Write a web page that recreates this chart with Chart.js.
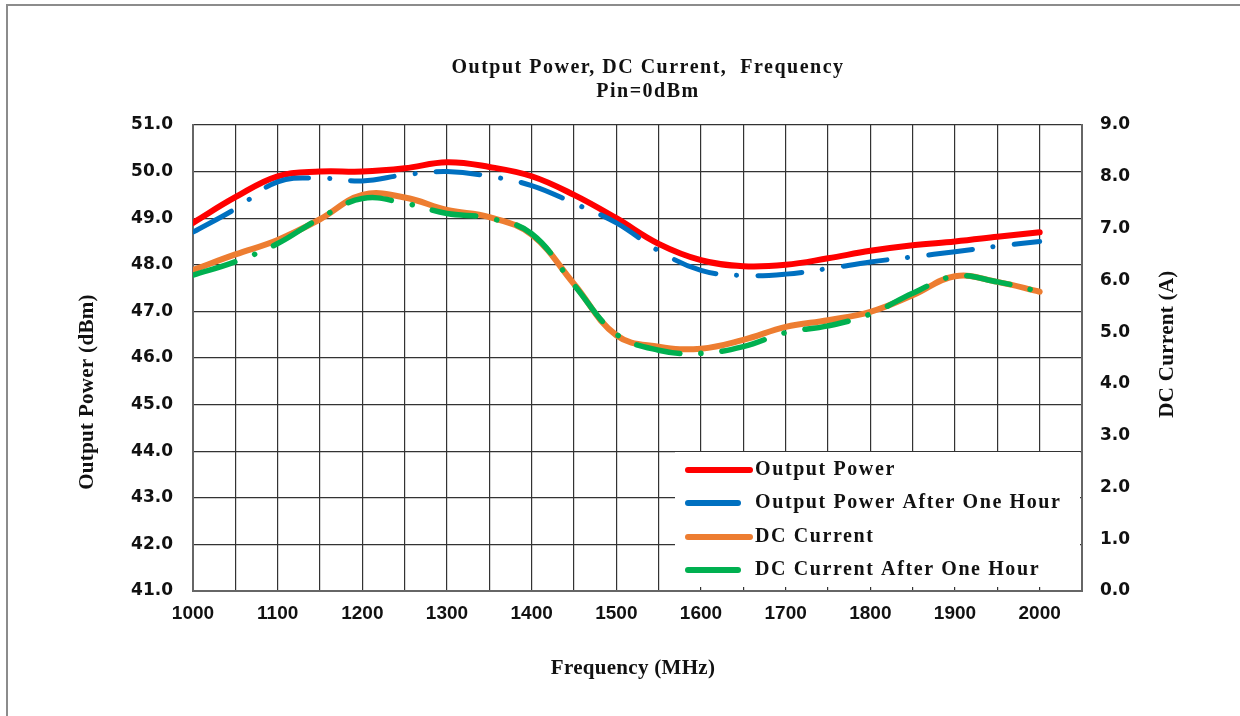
<!DOCTYPE html>
<html>
<head>
<meta charset="utf-8">
<title>Output Power, DC Current, Frequency</title>
<script src="https://cdn.jsdelivr.net/npm/chart.js@4.4.1/dist/chart.umd.min.js"></script>
<style>
    html, body { margin: 0; padding: 0; background: #fff; }
    #wrap { position: relative; width: 1240px; height: 716px; }
</style>
</head>
<body>
<div id="wrap"><canvas id="my-Power-Chart" width="1240" height="716"></canvas></div>
<script>
// data, step 50 MHz
const frequency = [1000, 1050, 1100, 1150, 1200, 1250, 1300, 1350, 1400, 1450, 1500,
                   1550, 1600, 1650, 1700, 1750, 1800, 1850, 1900, 1950, 2000];
const outputPower = [48.9, 49.45, 49.9, 50.0, 50.0, 50.07, 50.2, 50.1, 49.9, 49.5, 49.0,
                     48.45, 48.1, 47.97, 48.0, 48.14, 48.3, 48.42, 48.5, 48.6, 48.7];
const outputPowerAfterHour = [48.7, 49.2, 49.78, 49.86, 49.8, 49.93, 50.0, 49.9, 49.7, 49.32, 48.9,
                              48.3, 47.88, 47.77, 47.8, 47.92, 48.06, 48.17, 48.28, 48.4, 48.5];
const dcCurrent = [6.2, 6.5, 6.78, 7.18, 7.65, 7.6, 7.36, 7.22, 6.88, 5.93, 4.94,
                   4.72, 4.68, 4.85, 5.1, 5.23, 5.39, 5.71, 6.08, 5.97, 5.78];
const dcCurrentAfterHour = [6.1, 6.36, 6.71, 7.2, 7.58, 7.49, 7.29, 7.2, 6.9, 5.91, 4.96,
                            4.65, 4.59, 4.72, 4.99, 5.12, 5.35, 5.75, 6.08, 5.97, 5.78];

const seriesNames = ['Output Power', 'Output Power After One Hour', 'DC Current', 'DC Current After One Hour'];
const seriesColors = ['#ff0000', '#0070c0', '#ed7d31', '#00b050'];
const titleLines = ['Output Power, DC Current,  Frequency', 'Pin=0dBm'];
const xTitle = 'Frequency (MHz)';
const yTitle = 'Output Power (dBm)';
const y2Title = 'DC Current (A)';

const dashDot = [44, 21, 0.1, 21];

function toPoints(values) {
    return values.map((v, i) => ({ x: frequency[i], y: v }));
}

// judul, legenda, bingkai digambar sendiri
const extrasPlugin = {
    id: 'extras',
    beforeDraw(chart) {
        const ctx = chart.ctx;
        ctx.save();
        ctx.fillStyle = '#fff';
        ctx.fillRect(0, 0, chart.width, chart.height);
        ctx.strokeStyle = '#8c8c8c';
        ctx.lineWidth = 2;
        ctx.beginPath();
        ctx.moveTo(7, 716);
        ctx.lineTo(7, 5);
        ctx.lineTo(1240, 5);
        ctx.stroke();
        ctx.restore();
    },
    afterDraw(chart) {
        const ctx = chart.ctx;
        ctx.save();
        ctx.fillStyle = '#111';
        ctx.textAlign = 'center';
        ctx.textBaseline = 'middle';

        // judul
        ctx.font = 'bold 20px "Liberation Serif"';
        ctx.letterSpacing = '1.5px';
        ctx.fillText(titleLines[0], 648, 68);
        ctx.fillText(titleLines[1], 648, 92);

        // judul sumbu
        ctx.font = 'bold 21px "Liberation Serif"';
        ctx.letterSpacing = '0.3px';
        ctx.fillText(xTitle, 633, 669);
        ctx.save();
        ctx.translate(88, 392);
        ctx.rotate(-Math.PI / 2);
        ctx.fillText(yTitle, 0, 0);
        ctx.restore();
        ctx.save();
        ctx.translate(1168, 344);
        ctx.rotate(-Math.PI / 2);
        ctx.fillText(y2Title, 0, 0);
        ctx.restore();

        // legenda di dalam area grafik
        ctx.fillStyle = '#fff';
        ctx.fillRect(675, 452, 405, 135);
        const rows = [470, 503, 537, 570];
        const lineEnds = [750, 738, 750, 738];
        ctx.lineCap = 'round';
        ctx.textAlign = 'left';
        ctx.font = 'bold 20px "Liberation Serif"';
        ctx.letterSpacing = '1.6px';
        chart.data.datasets.forEach((ds, i) => {
            ctx.strokeStyle = ds.borderColor;
            ctx.lineWidth = 6;
            ctx.beginPath();
            ctx.moveTo(688, rows[i]);
            ctx.lineTo(lineEnds[i], rows[i]);
            ctx.stroke();
            ctx.fillStyle = '#111';
            ctx.fillText(ds.label, 755, rows[i]);
        });
        ctx.restore();
    }
};

function createPowerChart() {
    const ctx = document.getElementById('my-Power-Chart').getContext('2d');
    new Chart(ctx, {
        type: 'line',
        data: {
            // order: seri "after one hour" digambar di atas
            datasets: [
                { label: seriesNames[0], data: toPoints(outputPower), yAxisID: 'y', order: 4,
                  borderColor: seriesColors[0], borderWidth: 6 },
                { label: seriesNames[1], data: toPoints(outputPowerAfterHour), yAxisID: 'y', order: 3,
                  borderColor: seriesColors[1], borderWidth: 5, borderDash: dashDot },
                { label: seriesNames[2], data: toPoints(dcCurrent), yAxisID: 'y2', order: 2,
                  borderColor: seriesColors[2], borderWidth: 6 },
                { label: seriesNames[3], data: toPoints(dcCurrentAfterHour), yAxisID: 'y2', order: 1,
                  borderColor: seriesColors[3], borderWidth: 5.5, borderDash: dashDot }
            ]
        },
        options: {
            responsive: false,
            animation: false,
            layout: { padding: { top: 125, left: 0, right: 0, bottom: 0 } },
            elements: {
                point: { radius: 0 },
                line: { tension: 0.4, borderCapStyle: 'round', fill: false }
            },
            plugins: {
                legend: { display: false },
                title: { display: false },
                tooltip: { enabled: false }
            },
            scales: {
                x: {
                    type: 'linear',
                    min: 1000,
                    max: 2050,
                    afterFit: (s) => { s.height = 125; },
                    grid: { color: '#333', lineWidth: 1.2, drawTicks: false },
                    border: { color: '#666', width: 2 },
                    ticks: {
                        stepSize: 50,
                        padding: 11,
                        color: '#111',
                        autoSkip: false,
                        maxRotation: 0,
                        minRotation: 0,
                        font: { family: '"Liberation Sans"', weight: 'bold', size: 19 },
                        callback: (v) => (v % 100 === 0 && v <= 2000) ? String(v) : ''
                    }
                },
                y: {
                    position: 'left',
                    min: 41,
                    max: 51,
                    afterFit: (s) => { s.width = 193; },
                    grid: { color: '#333', lineWidth: 1.2, drawTicks: false },
                    border: { color: '#666', width: 2 },
                    ticks: {
                        stepSize: 1,
                        padding: 20,
                        color: '#111',
                        font: { family: '"DejaVu Sans"', weight: 'bold', size: 17 },
                        callback: (v) => v.toFixed(1)
                    }
                },
                y2: {
                    position: 'right',
                    min: 0,
                    max: 9,
                    afterFit: (s) => { s.width = 158; },
                    grid: { display: false, drawTicks: false },
                    border: { color: '#666', width: 2 },
                    ticks: {
                        stepSize: 1,
                        padding: 18,
                        color: '#111',
                        font: { family: '"DejaVu Sans"', weight: 'bold', size: 17 },
                        callback: (v) => v.toFixed(1)
                    }
                }
            }
        },
        plugins: [extrasPlugin]
    });
}

createPowerChart()
</script>
</body>
</html>
